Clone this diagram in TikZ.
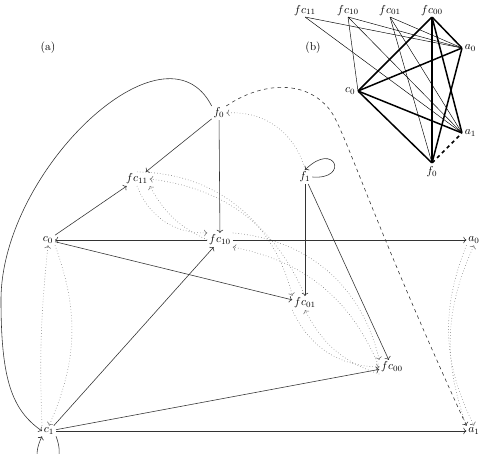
\documentclass[tikz,border=0pt]{standalone}
\usetikzlibrary{arrows.meta}
\definecolor{solidc}{gray}{0.2}
\definecolor{dotc}{gray}{0.45}
\tikzset{
  st/.style={inner sep=1.5pt},
  sol/.style={->, draw=solidc, line width=0.5pt},
  dot/.style={->, draw=dotc, dotted, line width=0.5pt},
  dsh/.style={->, draw=solidc, dashed, line width=0.5pt},
  bpt/.style={inner sep=0pt, minimum size=0pt},
  thinedge/.style={draw=black, line width=0.4pt},
  thickedge/.style={draw=black, line width=1.3pt},
}
\begin{document}
\begin{tikzpicture}[x=0.87pt,y=0.87pt]
\useasboundingbox (0,0) rectangle (483,-454);

% labels
\node (la) at (48,-48) {(a)};
\node (lb) at (313,-48) {(b)};

% (a) nodes
\node[st] (f0) at (219,-113) {$f_0$};
\node[st] (fc11) at (137,-179) {$fc_{11}$};
\node[st] (f1) at (305,-177) {$f_1$};
\node[st] (c0) at (48,-240) {$c_0$};
\node[st] (fc10) at (220,-240) {$fc_{10}$};
\node[st] (a0) at (474,-240) {$a_0$};
\node[st] (fc01) at (305,-303) {$fc_{01}$};
\node[st] (fc00) at (392,-367) {$fc_{00}$};
\node[st] (c1) at (49,-431) {$c_1$};
\node[st] (a1) at (474,-431) {$a_1$};

% dotted
\draw[dot] (f1.north) to[bend right=40] (f0.east);
\draw[dot] (c1.north west) to[bend left=4] (c0.south);
\draw[dot] (c0.south east) to[bend left=22] (c1.north);
\draw[dot] (a0.south west) to[bend right=24] (a1.north);
\draw[dot] (a1.north west) to[bend left=22] (a0.south);
\draw[dot] (fc11.south) to[bend right=35] (fc10.north west);
\draw[dot] (fc10.west) to[bend left=18] (fc11.south east);
\draw[dot] (fc11.north) to[bend left=38] (fc01.north west);
\draw[dot] (fc01.north) to[bend right=30] (fc11.east);
\draw[dot] (fc10.north east) to[bend left=36] (fc00.north west);
\draw[dot] (fc00.west) to[bend right=28] (fc10.south east);
\draw[dot] (fc01.south west) to[bend right=32] (fc00.west);
\draw[dot] (fc00.south west) to[bend left=22] (fc01.south);

% solid
\draw[sol] (f0) -- (fc11);
\draw[sol] (f0) -- (fc10);
\draw[sol] (c0) -- (fc11);
\draw[sol] (fc10) -- (c0);
\draw[sol] (fc10) -- (a0);
\draw[sol] (c0) -- (fc01);
\draw[sol] (c1) -- (fc10);
\draw[sol] (c1) -- (fc00);
\draw[sol] (c1) -- (a1);
\draw[sol] (f1) -- (fc01);
\draw[sol] (f1) -- (fc00);
\draw[sol] (f1.east) .. controls (350,-180) and (335,-140) .. (f1.north);
\draw[sol] (c1.south east) .. controls (72,-478) and (22,-478) .. (c1.south west);
\draw[sol] (f0.north west) .. controls (165,-15) and (1,-170) .. (1,-300)
   .. controls (1,-380) and (12,-410) .. (c1.west);
\draw[dsh] (f0.north east) .. controls (260,-83) and (305,-78) .. (330,-110)
   .. controls (345,-130) and (372,-220) .. (a1.north west);

% (b)
\node[bpt,label={[inner sep=1pt]above:$fc_{11}$}] (bfc11) at (305,-17) {};
\node[bpt,label={[inner sep=1pt]above:$fc_{10}$}] (bfc10) at (348,-17) {};
\node[bpt,label={[inner sep=1pt]above:$fc_{01}$}] (bfc01) at (390,-17) {};
\node[bpt,label={[inner sep=1pt]above:$fc_{00}$}] (bfc00) at (432,-17) {};
\node[bpt,label={[inner sep=2pt]right:$a_0$}] (ba0) at (462,-48) {};
\node[bpt,label={[inner sep=2pt]left:$c_0$}] (bc0) at (358,-91) {};
\node[bpt,label={[inner sep=2pt]right:$a_1$}] (ba1) at (462,-133) {};
\node[bpt,label={[inner sep=3pt]below:$f_0$}] (bf0) at (432,-163) {};

\draw[thinedge] (bfc11) -- (ba0);
\draw[thinedge] (bfc11) -- (ba1);
\draw[thinedge] (bfc10) -- (ba0);
\draw[thinedge] (bfc10) -- (ba1);
\draw[thinedge] (bfc10) -- (bc0);
\draw[thinedge] (bfc01) -- (ba0);
\draw[thinedge] (bfc01) -- (ba1);
\draw[thinedge] (bfc01) -- (bf0);

\draw[thickedge] (bfc00) -- (bc0);
\draw[thickedge] (bfc00) -- (ba0);
\draw[thickedge] (bfc00) -- (ba1);
\draw[thickedge] (bfc00) -- (bf0);
\draw[thickedge] (bc0) -- (ba0);
\draw[thickedge] (bc0) -- (ba1);
\draw[thickedge] (bc0) -- (bf0);
\draw[thickedge] (bf0) -- (ba0);
\draw[thickedge, dashed] (bf0) -- (ba1);
\end{tikzpicture}
\end{document}
